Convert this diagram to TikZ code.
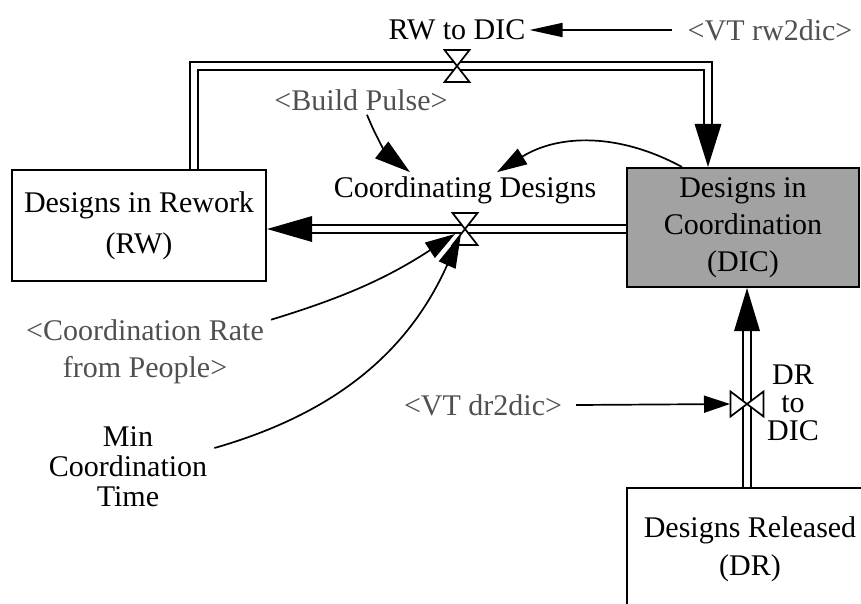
\documentclass[tikz,border=0pt]{standalone}
\usepackage{fontspec}
\setmainfont{Liberation Serif}
\usetikzlibrary{arrows.meta,calc}
\definecolor{stockgray}{RGB}{162,162,162}
\definecolor{ghosttext}{RGB}{80,80,80}

\begin{document}
\begin{tikzpicture}[x=1pt,y=-1pt,
  lbl/.style={font=\fontsize{30}{36}\selectfont, align=center, inner sep=0pt},
  ghost/.style={lbl, text=ghosttext},
  stock/.style={draw, line width=2.2pt, align=center, inner sep=0pt},
  pipe/.style={double, double distance=6pt, line width=2pt},
  info/.style={line width=1.7pt, -{Triangle[length=30pt,width=18pt]}},
  valveshape/.style={draw, fill=white, line width=1.7pt, line join=miter}
]
\useasboundingbox (0,0) rectangle (861,603);

% valve positions and pipe corners
\coordinate (vrw) at (457,66);
\coordinate (vcd) at (465,229);
\coordinate (vdr) at (747,404);
\coordinate (rwup) at (194,66);
\coordinate (dicdown) at (708,66);

\begin{scope}
\clip (0,0) rectangle (861,603);

% stocks (placed first so the pipes can refer to them)
\node[stock, minimum width=254pt, minimum height=111pt,
      font=\fontsize{30}{41}\selectfont] (rw) at (139,225.5)
      {Designs in Rework\\(RW)};
\node[stock, fill=stockgray, minimum width=232pt, minimum height=119pt,
      font=\fontsize{30}{37}\selectfont] (dic) at (743,227.5)
      {Designs in\\Coordination\\(DIC)};
\node[stock, minimum width=246pt, minimum height=122pt,
      font=\fontsize{30}{38}\selectfont] (dr) at (750,549)
      {Designs Released\\(DR)};

% material flows (double pipes)
\draw[pipe] (rwup |- rw.north) -- (rwup) -- (dicdown)
            -- ($(dicdown |- dic.north)+(0,-40)$);
\draw[pipe] (dic.west |- vcd) -- ($(rw.east |- vcd)+(42,0)$);
\draw[pipe] (vdr |- dr.north) -- ($(vdr |- dic.south)+(0,40)$);

% pipe arrowheads
\fill (dicdown |- dic.north) -- ++(-13.5,-43) -- ++(27,0) -- cycle;
\fill (rw.east |- vcd) -- ++(45,-13) -- ++(0,26) -- cycle;
\fill (vdr |- dic.south) -- ++(-13,43) -- ++(26,0) -- cycle;
\end{scope}

% valves
\draw[valveshape, shift={(vrw)}] (-12.5,-16) -- (12.5,-16) -- (-12.5,16) -- (12.5,16) -- cycle;
\draw[valveshape, shift={(vcd)}] (-12.5,-16) -- (12.5,-16) -- (-12.5,16) -- (12.5,16) -- cycle;
\draw[valveshape, shift={(vdr)}] (-16.5,-12.5) -- (-16.5,12.5) -- (16.5,-12.5) -- (16.5,12.5) -- cycle;

% rates and auxiliaries
\node[lbl] (rwdic) at (457,30) {RW to DIC};
\node[ghost] (vtrw) at (770,30) {<VT rw2dic>};
\node[ghost] (build) at (361,100) {<Build Pulse>};
\node[lbl] (coord) at (465,190) {Coordinating Designs};
\node[ghost, font=\fontsize{30}{37}\selectfont] (crate) at (145,352)
      {<Coordination Rate\\from People>};
\node[lbl, font=\fontsize{30}{30}\selectfont] (mintime) at (128,467)
      {Min\\Coordination\\Time};
\node[ghost] (vtdr) at (483,405) {<VT dr2dic>};
\node[lbl, font=\fontsize{30}{28}\selectfont] (drdic) at (793,403)
      {DR\\to\\DIC};

% information links
\draw[info, -{Triangle[length=33pt,width=14pt]}]
      ($(vtrw.west)+(-15,0)$) -- ($(rwdic.east)+(4,0)$);
\draw[info, -{Triangle[length=36pt,width=21pt]}]
      ($(build.south)+(6,4)$) to[bend right=15] ($(coord.north)+(-55,-4)$);
\draw[info] ($(dic.north west)+(56,0)$) to[bend right=30] ($(coord.north)+(32,-4)$);
\draw[info] ($(crate.north east)+(7,0)$) to[bend right=8] ($(vcd)+(-10,5)$);
\draw[info, -{Triangle[length=34pt,width=18pt]}]
      ($(mintime.east)+(7,-19)$) to[bend right=25] ($(vcd)+(-4,5)$);
\draw[info, -{Triangle[length=26pt,width=17pt]}]
      ($(vtdr.east)+(14,0)$) -- ($(vdr)+(-17,0)$);
\end{tikzpicture}
\end{document}
